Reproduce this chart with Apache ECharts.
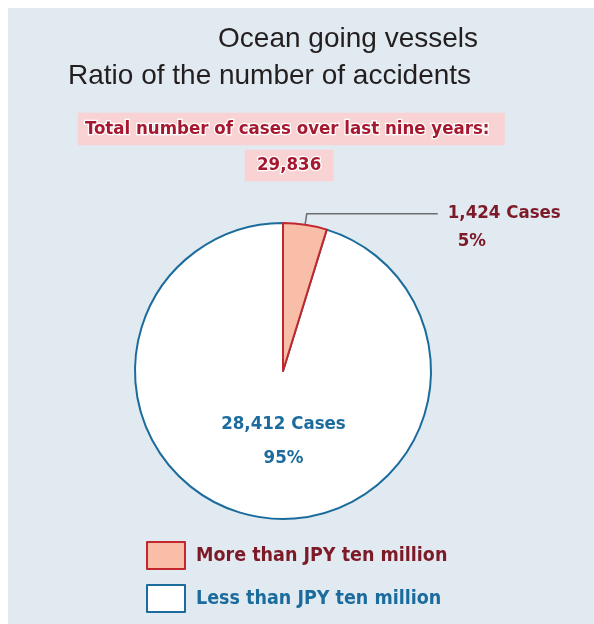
<!DOCTYPE html>
<html><head><meta charset="utf-8">
<script src="https://cdn.jsdelivr.net/npm/echarts@6/dist/echarts.min.js"></script>
<style>html,body{margin:0;padding:0;background:#fff}#c{width:594px;height:624px}</style>
</head><body><div id="c"></div>
<script>
var categories = ['More than JPY ten million', 'Less than JPY ten million'];
var caseCounts = [1424, 28412];
var totalCases = '29,836';
var titleLines = ['Ocean going vessels', 'Ratio of the number of accidents'];
var totalLabel = 'Total number of cases over last nine years:';

var NARROW = '"DejaVu Sans Condensed","Liberation Sans Narrow",sans-serif';
var RED = '#7c1a27', BLUE = '#1b6c9c';
function fmt(n){return n.toLocaleString('en-US');}
var total = caseCounts[0] + caseCounts[1];

var chart = echarts.init(document.getElementById('c'));
chart.setOption({
  animation: false,
  backgroundColor: '#ffffff',
  graphic: [{type:'rect', z:-10, shape:{x:8,y:8,width:594,height:624}, style:{fill:'#e1e9f1'}}],
  title: [
    {text: titleLines[0], right: 116, top: 25, padding:0,
     textStyle:{fontFamily:'"Liberation Sans",Arial,sans-serif', fontSize:28, fontWeight:'normal', color:'#231f20'}},
    {text: titleLines[1], left: 68, top: 62, padding:0,
     textStyle:{fontFamily:'"Liberation Sans",Arial,sans-serif', fontSize:28, fontWeight:'normal', color:'#231f20'}},
    {text: totalLabel, left: 79, top: 114, padding:[6,14,5,6], backgroundColor:'#f9d3d3',
     textStyle:{fontFamily:NARROW, fontSize:18.5, fontWeight:'bold', color:'#a5182f', textBorderColor:'#fff', textBorderWidth:2.5}},
    {text: totalCases, left: 246, top: 151, padding:[5,11,5,11], backgroundColor:'#f9d3d3',
     textStyle:{fontFamily:NARROW, fontSize:18.5, fontWeight:'bold', color:'#a5182f', textBorderColor:'#fff', textBorderWidth:2.5}}
  ],
  legend: {
    orient:'vertical', left:146, top:541, padding:0, itemWidth:38, itemHeight:27, itemGap:14,
    icon:'rect', selectedMode:false,
    textStyle:{fontFamily:NARROW, fontSize:19.5, fontWeight:'bold', padding:[0,0,0,6]},
    data:[
      {name:categories[0], textStyle:{color:RED}},
      {name:categories[1], textStyle:{color:BLUE}}
    ]
  },
  series: [{
    type:'pie', center:[283,371], radius:[0,148],
    startAngle: 90 - 360 * caseCounts[0] / total, clockwise:true,
    percentPrecision:0, avoidLabelOverlap:false,
    emphasis:{disabled:true},
    data:[
      {name:categories[1], value:caseCounts[1],
       itemStyle:{color:'#ffffff', borderColor:'#1b6c9c', borderWidth:2},
       label:{show:true, position:'inside', padding:[0,0,12,24],
         formatter:function(p){return '{a|'+fmt(p.value)+' Cases}\n{a|'+p.percent+'%}';},
         rich:{a:{fontFamily:NARROW,fontSize:18.5,fontWeight:'bold',color:BLUE,lineHeight:34,align:'center'}}},
       labelLine:{show:false}},
      {name:categories[0], value:caseCounts[0],
       itemStyle:{color:'#f9bea7', borderColor:'#c1272d', borderWidth:2},
       label:{show:true, position:'outside', padding:[26,0,0,0], distanceToLabelLine:10,
         formatter:function(p){return '{a|'+fmt(p.value)+' Cases}\n{b|'+p.percent+'%}';},
         rich:{a:{fontFamily:NARROW,fontSize:18.5,fontWeight:'bold',color:RED,lineHeight:28},
               b:{fontFamily:NARROW,fontSize:18.5,fontWeight:'bold',color:RED,lineHeight:28,padding:[0,0,0,10]}}},
       labelLine:{show:true, length:11, length2:131, smooth:false, lineStyle:{color:'#6d6e71', width:1.5}}}
    ]
  }]
});
</script></body></html>
